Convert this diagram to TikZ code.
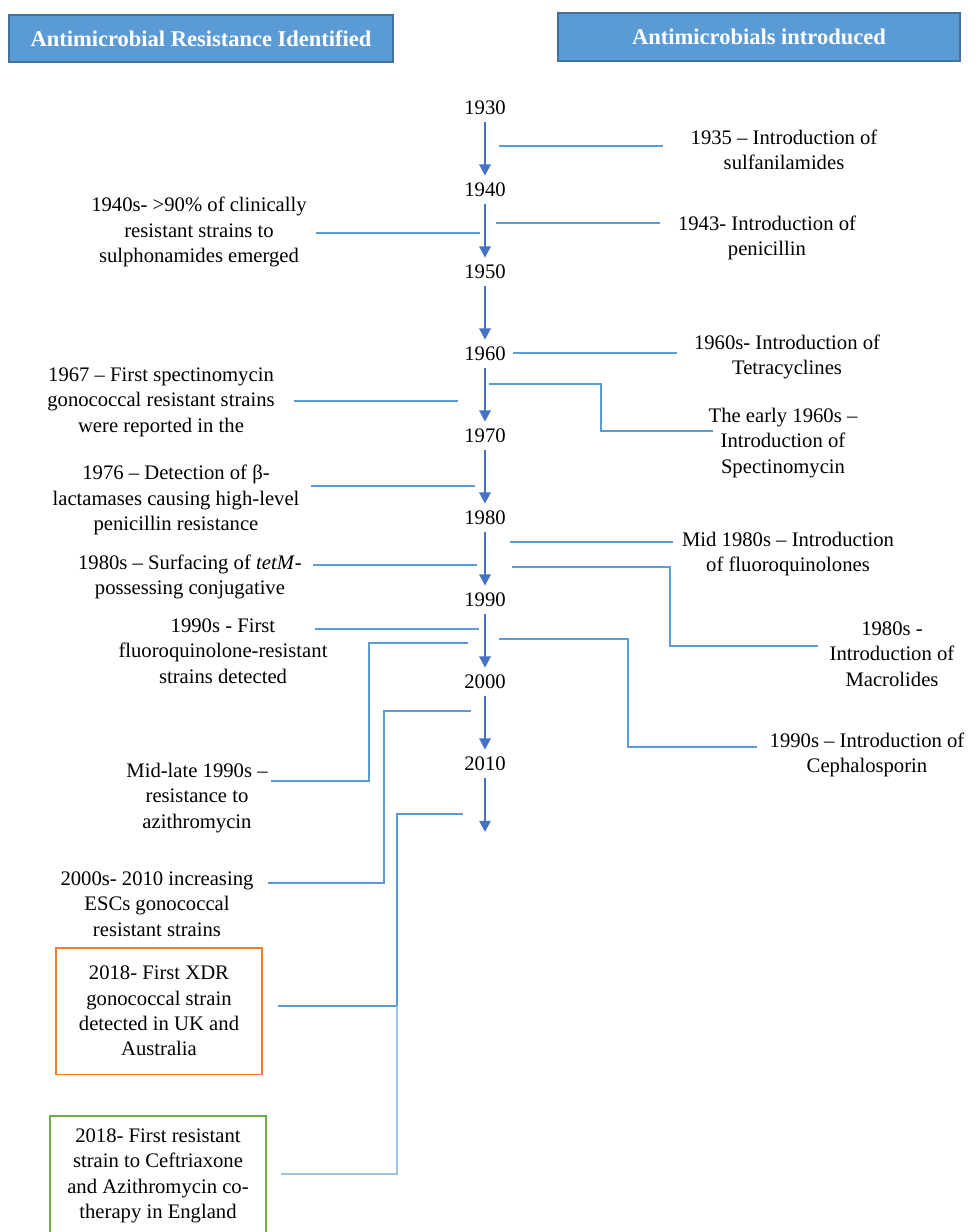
\documentclass[tikz,border=0pt]{standalone}
\usepackage{fontspec}
\setmainfont{Liberation Serif}
\usetikzlibrary{arrows.meta}

\definecolor{headblue}{HTML}{5B9BD5}
\definecolor{headedge}{HTML}{41719C}
\definecolor{arrowblue}{HTML}{4472C4}
\definecolor{lineblue}{HTML}{5B9BD5}
\definecolor{paleblue}{HTML}{9DC3E6}
\definecolor{xdrorange}{HTML}{ED7D31}
\definecolor{cotgreen}{HTML}{70AD47}

\tikzset{
    header/.style={draw=headedge, line width=1.2pt, fill=headblue, text=white,
        font=\fontsize{16}{19}\selectfont\bfseries, inner sep=0pt},
    year/.style={inner sep=0pt, minimum height=20pt},
    event/.style={align=center, inner sep=0pt},
    eventbox/.style={event, line width=1.4pt},
    yeararrow/.style={arrowblue, line width=1.7pt, -{Triangle[width=8pt,length=8pt]}},
    link/.style={lineblue, line width=1.3pt},
    faintlink/.style={paleblue, line width=0.9pt},
}

\begin{document}
\begin{tikzpicture}[x=0.025cm, y=-0.025cm, font=\fontsize{14.7}{18.1}\selectfont]
    \useasboundingbox (0,0) rectangle (979,1232);

    % Header boxes
    \node[header, minimum width=273pt, minimum height=33.4pt] (hleft) at (201,38.5)
        {Antimicrobial Resistance Identified};
    \node[header, minimum width=286pt, minimum height=34pt] (hright) at (759,37)
        {Antimicrobials introduced};

    % Timeline
    \foreach \yr [count=\i from 0] in {1930,1940,...,2010}
        \node[year] (y\yr) at (485,{108+82*\i}) {\yr};
    \foreach \a/\b in {1930/1940,1940/1950,1950/1960,1960/1970,1970/1980,
                       1980/1990,1990/2000,2000/2010}
        \draw[yeararrow] (y\a) -- (y\b);
    \coordinate (tlend) at (485,832);
    \draw[yeararrow] (y2010) -- (tlend);

    % Antimicrobials introduced (right)
    \node[event] (sulfa) at (784,150) {1935 -- Introduction of\\sulfanilamides};
    \node[event] (penic) at (767,238) {1943- Introduction of\\penicillin};
    \node[event] (tetra) at (787,357) {1960s- Introduction of\\Tetracyclines};
    \node[event] (spect) at (783,443) {The early 1960s --\\Introduction of\\Spectinomycin};
    \node[event] (fluoro) at (788,554) {Mid 1980s -- Introduction\\of fluoroquinolones};
    \node[event] (macro) at (892,654) {1980s -\\Introduction of\\Macrolides};
    \node[event] (cepha) at (867,755) {1990s -- Introduction of\\Cephalosporin};

    \coordinate (r35a) at (499,146);  \coordinate (r35b) at (663,146);
    \coordinate (r43a) at (496,223);  \coordinate (r43b) at (660,223);
    \coordinate (r60a) at (513,353);  \coordinate (r60b) at (677,353);
    \coordinate (r62a) at (489,384);  \coordinate (r62b) at (713,431);
    \coordinate (r85a) at (510,542);  \coordinate (r85b) at (673,542);
    \coordinate (r80a) at (512,567);  \coordinate (r80b) at (818,646);
    \coordinate (r90a) at (499,639);  \coordinate (r90b) at (757,747);
    \draw[link] (r35a) -- (r35b);
    \draw[link] (r43a) -- (r43b);
    \draw[link] (r60a) -- (r60b);
    \draw[link] (r62a) -- ++(112,0) |- (r62b);
    \draw[link] (r85a) -- (r85b);
    \draw[link] (r80a) -- ++(158,0) |- (r80b);
    \draw[link] (r90a) -- ++(129,0) |- (r90b);

    % Resistance identified (left)
    \node[event] (sulpho) at (199,232) {1940s- >90\% of clinically\\resistant strains to\\sulphonamides emerged};
    \node[event] (spres) at (161,402) {1967 -- First spectinomycin\\gonococcal resistant strains\\were reported in the};
    \node[event] (blact) at (176,500) {1976 -- Detection of β-\\lactamases causing high-level\\penicillin resistance};
    \node[event] (tetm) at (190,577) {1980s -- Surfacing of \textit{tetM}-\\possessing conjugative};
    \node[event] (fqres) at (223,651) {1990s - First\\fluoroquinolone-resistant\\strains detected};
    \node[event] (azres) at (197,798) {Mid-late 1990s --\\resistance to\\azithromycin};
    \node[event] (escres) at (157,904) {2000s- 2010 increasing\\ESCs gonococcal\\resistant strains};
    \node[eventbox, draw=xdrorange, minimum width=146.5pt, minimum height=90.3pt] (xdr) at (159,1011)
        {2018- First XDR\\gonococcal strain\\detected in UK and\\Australia};
    \node[eventbox, draw=cotgreen, minimum width=153.6pt, minimum height=85.4pt] (cotres) at (158,1176)
        {2018- First resistant\\strain to Ceftriaxone\\and Azithromycin co-\\therapy in England};

    \coordinate (l40a) at (480,233);  \coordinate (l40b) at (316,233);
    \coordinate (l67a) at (458,401);  \coordinate (l67b) at (294,401);
    \coordinate (l76a) at (475,486);  \coordinate (l76b) at (311,486);
    \coordinate (l80a) at (477,565);  \coordinate (l80b) at (313,565);
    \coordinate (l90a) at (479,629);  \coordinate (l90b) at (315,629);
    \coordinate (lmla) at (468,643);  \coordinate (lmlb) at (271,781);
    \coordinate (l00a) at (471,711);  \coordinate (l00b) at (268,883);
    \coordinate (l18a) at (463,814);  \coordinate (l18b) at (278,1006);
    \coordinate (l18c) at (281,1174);
    \draw[link] (l40a) -- (l40b);
    \draw[link] (l67a) -- (l67b);
    \draw[link] (l76a) -- (l76b);
    \draw[link] (l80a) -- (l80b);
    \draw[link] (l90a) -- (l90b);
    \draw[link] (lmla) -- ++(-99,0) |- (lmlb);
    \draw[link] (l00a) -- ++(-87,0) |- (l00b);
    \draw[link] (l18a) -- ++(-66,0) coordinate (split) |- (l18b);
    \draw[faintlink] (l18b -| split) |- (l18c);
\end{tikzpicture}
\end{document}
